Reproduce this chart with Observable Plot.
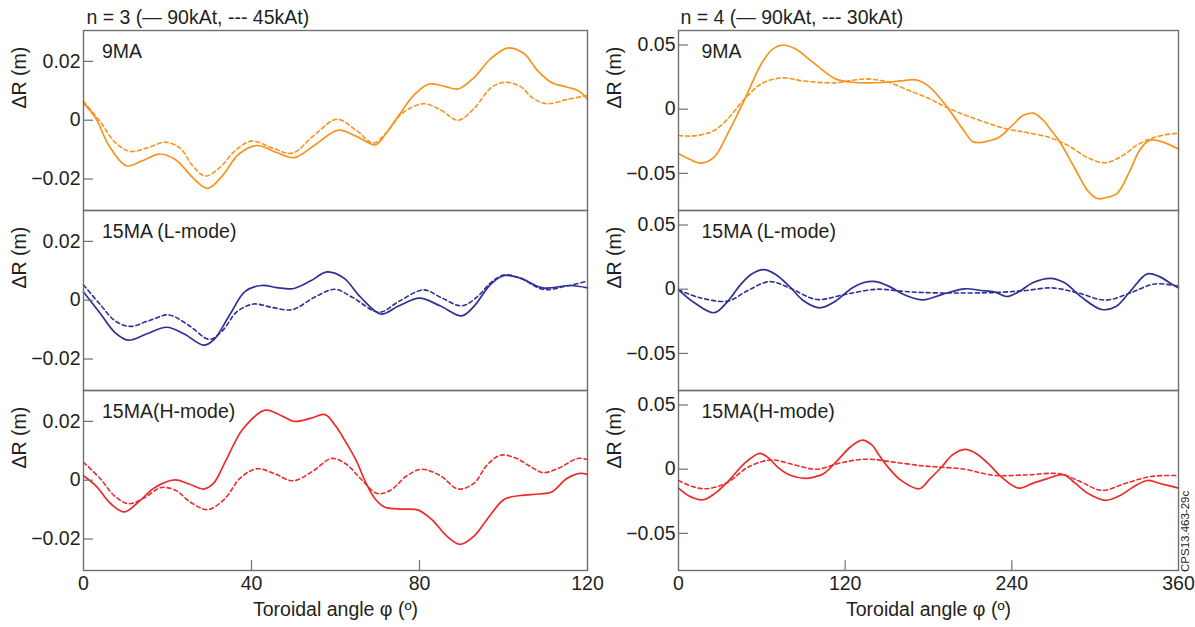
<!DOCTYPE html>
<html><head><meta charset="utf-8">
<script src="https://cdn.jsdelivr.net/npm/d3@7"></script>
<script src="https://cdn.jsdelivr.net/npm/@observablehq/plot@0.6"></script>
<style>
body{margin:0;background:#fff;}
#chart{position:relative;width:1195px;height:627px;background:#fff;overflow:hidden;}
#chart svg{position:absolute;top:0;max-width:none;}
</style></head><body><div id="chart"></div>
<script>
// ---------- data (toroidal angle φ in degrees, ΔR in metres) ----------
const panels = ["9MA", "15MA (L-mode)", "15MA(H-mode)"];
const leftTitle = "n = 3 (— 90kAt, --- 45kAt)";
const rightTitle = "n = 4 (— 90kAt, --- 30kAt)";
const xLabel = "Toroidal angle φ (º)";
const yLabel = "ΔR (m)";
const leftXTicks = [0, 40, 80, 120];
const rightXTicks = [0, 120, 240, 360];
const leftYTicks = [-0.02, 0, 0.02];
const rightYTicks = [-0.05, 0, 0.05];
const colors = ["#f7941d", "#2e3192", "#ee2a2a"];

// n = 3, 9MA
const n3_9MA_90 = [[0,0.0058],[3,0.0005],[6,-0.0085],[10.2,-0.0155],[14,-0.0138],[18,-0.0115],[22,-0.0135],[26,-0.0195],[29.5,-0.0232],[33,-0.019],[37,-0.0115],[41.3,-0.0086],[46,-0.011],[50.2,-0.0127],[55,-0.0085],[60.7,-0.0034],[65,-0.0055],[69.5,-0.0084],[72,-0.0045],[75,0.0015],[79,0.009],[82.3,0.0123],[86,0.0115],[89.2,0.0106],[93,0.0145],[97,0.021],[101.2,0.0246],[105,0.0225],[108,0.017],[111.3,0.0129],[115,0.0113],[117.7,0.0101],[120,0.0072]];
const n3_9MA_45 = [[0,0.0064],[4,-0.0005],[7.5,-0.0075],[11.1,-0.0106],[15,-0.0095],[19.4,-0.0075],[23,-0.0095],[26,-0.0155],[29,-0.019],[32.5,-0.016],[36,-0.0105],[40,-0.0071],[45,-0.0095],[49.7,-0.0112],[55,-0.005],[60.3,0.0003],[65,-0.0035],[69,-0.0078],[72,-0.0045],[76,0.0025],[81,0.0056],[85,0.0035],[89.2,0.0],[93,0.004],[97,0.011],[100.2,0.0129],[104,0.0115],[107,0.0075],[110.4,0.0056],[115,0.007],[120,0.0084]];
// n = 3, 15MA L-mode
const n3_L_90 = [[0,0.0028],[4,-0.0045],[7.5,-0.011],[10.7,-0.0136],[15,-0.0115],[19.8,-0.0092],[24,-0.0115],[28.6,-0.0153],[31,-0.0135],[35,-0.0045],[38.5,0.003],[42.4,0.005],[46,0.0043],[49.7,0.0039],[54,0.0065],[58,0.0096],[62,0.0075],[66,0.001],[70.8,-0.0047],[75,-0.002],[80,0.0007],[85,-0.002],[90.1,-0.0053],[93,-0.002],[97,0.0055],[100.2,0.0084],[104,0.0075],[109.4,0.0042],[115.9,0.005],[120,0.0042]];
const n3_L_45 = [[0,0.0052],[4,-0.0015],[7.5,-0.007],[11.1,-0.0089],[15.5,-0.007],[20.3,-0.005],[25,-0.0085],[30,-0.0133],[33,-0.0105],[36.5,-0.004],[40.5,-0.0013],[45,-0.0025],[49.7,-0.0032],[55,0.001],[59.8,0.0037],[64,0.001],[70.4,-0.0041],[75,-0.0005],[81,0.0035],[85,0.001],[90.1,-0.0019],[94,0.0015],[97,0.006],[100.2,0.0086],[104,0.0075],[109.4,0.0037],[115,0.0048],[120,0.0065]];
// n = 3, 15MA H-mode
const n3_H_90 = [[0,0.0015],[3,-0.002],[6.5,-0.008],[9.7,-0.0108],[13,-0.0075],[17,-0.0025],[21.7,0.0001],[25,-0.0012],[28.6,-0.003],[31,-0.001],[34,0.007],[38,0.0175],[43.3,0.0238],[47,0.022],[50.2,0.02],[54,0.021],[57.5,0.0223],[60,0.0185],[62.6,0.0126],[65,0.0065],[67.2,-0.0008],[69.5,-0.0065],[71.8,-0.0092],[76,-0.0098],[79.6,-0.0101],[83,-0.0135],[86.5,-0.019],[89.7,-0.0218],[93,-0.019],[96.5,-0.0125],[100.2,-0.0065],[104,-0.0052],[108.5,-0.0047],[111.5,-0.004],[115,0.0005],[118.2,0.0023],[120,0.002]];
const n3_H_45 = [[0,0.0061],[4,0.0005],[7.5,-0.0055],[10.7,-0.008],[14.5,-0.006],[18.5,-0.0025],[22,-0.0035],[25.5,-0.0075],[29.5,-0.01],[33.5,-0.0065],[37.5,0.001],[41.4,0.0039],[45.5,0.0022],[49.9,-0.0002],[54.5,0.003],[59.1,0.0074],[62.5,0.0055],[66,0.0005],[69.9,-0.0045],[73,-0.0035],[77,0.0015],[80.5,0.0037],[85,0.0015],[89.2,-0.003],[93,-0.001],[96,0.005],[99.3,0.0085],[103,0.0075],[106,0.005],[109.4,0.0026],[113,0.004],[117.7,0.0074],[120,0.007]];

// n = 4, 9MA
const n4_9MA_90 = [[0,-0.0345],[8,-0.039],[16,-0.042],[25.7,-0.0373],[35,-0.02],[47.6,0.0075],[60,0.036],[68,0.047],[75,0.05],[84,0.047],[96.8,0.0365],[113,0.0236],[125,0.021],[135,0.0205],[150,0.021],[160,0.022],[170.7,0.0228],[180,0.018],[192.6,0.0028],[205,-0.016],[211.7,-0.0251],[217,-0.026],[224,-0.0245],[230.9,-0.0218],[240,-0.013],[248,-0.005],[255.5,-0.0031],[262,-0.008],[268,-0.016],[274.6,-0.0256],[285.5,-0.0464],[295,-0.064],[302,-0.0697],[308,-0.0688],[315.7,-0.0658],[325,-0.048],[332,-0.032],[338.9,-0.0243],[345,-0.0245],[352,-0.027],[360,-0.031]];
const n4_9MA_30 = [[0,-0.0205],[8,-0.021],[16,-0.02],[25.7,-0.0166],[35,-0.008],[47.6,0.008],[60,0.02],[75,0.0244],[90,0.022],[113,0.0205],[125,0.0225],[135,0.0236],[145,0.0225],[151.5,0.021],[165,0.015],[180,0.0085],[192.6,0.0016],[210,-0.006],[236,-0.0153],[250,-0.018],[266.4,-0.0218],[280,-0.028],[295,-0.038],[307.4,-0.0417],[320,-0.036],[330,-0.028],[340,-0.023],[350,-0.02],[360,-0.0187]];
// n = 4, 15MA L-mode
const n4_L_90 = [[0,-0.0005],[12,-0.011],[25.7,-0.0183],[35,-0.01],[45,0.004],[53,0.012],[61.3,0.0152],[70,0.0115],[80,0.002],[90,-0.009],[101.8,-0.0145],[112,-0.01],[125,0.001],[133,0.005],[142,0.0059],[152,0.002],[163,-0.0045],[176.2,-0.0083],[190,-0.004],[206.2,0.0003],[218,-0.001],[228,-0.0023],[236.3,-0.0057],[245,-0.002],[255,0.005],[267.8,0.0085],[278,0.005],[290,-0.006],[304.7,-0.0158],[315,-0.0135],[325,-0.002],[337.5,0.0119],[346,0.01],[355,0.004],[360,0.001]];
const n4_L_30 = [[0,-0.0005],[15,-0.0065],[35.3,-0.0093],[50,-0.001],[65.4,0.0059],[80,0.001],[99.5,-0.008],[120,-0.004],[143.3,0.0],[160,-0.0015],[176,-0.0026],[200,-0.003],[230,-0.0025],[250,-0.001],[269,0.001],[288,-0.003],[307.5,-0.0085],[325,-0.003],[343,0.0041],[360,0.0023]];
// n = 4, 15MA H-mode
const n4_H_90 = [[0,-0.0147],[8,-0.021],[17.5,-0.0238],[26,-0.019],[36.7,-0.0083],[47,0.004],[58.5,0.0124],[65,0.0085],[72.2,0.0008],[80,-0.0045],[91.4,-0.0072],[98,-0.006],[105,-0.0031],[115,0.0075],[124,0.0175],[132.4,0.0227],[139.2,0.0189],[145,0.01],[151.5,0.0008],[160,-0.0085],[173.4,-0.0152],[181,-0.0075],[189.8,0.0021],[197,0.011],[206.2,0.0155],[214,0.0125],[222.7,0.0047],[233,-0.0065],[244.6,-0.0147],[255,-0.011],[265,-0.0075],[277.4,-0.0044],[285.6,-0.0109],[295,-0.019],[307.5,-0.0243],[318,-0.0205],[328,-0.0135],[337.5,-0.0088],[348,-0.0115],[360,-0.0147]];
const n4_H_30 = [[0,-0.0088],[10,-0.0135],[20.2,-0.0152],[35,-0.0105],[50,0.0015],[66.7,0.0072],[83,0.0035],[99.5,0.0],[117,0.005],[135,0.0078],[155,0.0055],[176,0.0026],[190,0.0015],[206,0.0],[218,-0.003],[228,-0.0049],[250,-0.0045],[274.6,-0.0036],[290,-0.01],[304.7,-0.0165],[322,-0.011],[340,-0.0057],[360,-0.0049]];

// ---------- drawing ----------
const FONT = 19.5;
const FRAME = "#707070";
const INK = "#231f20";
const fmt = d => d === 0 ? "0" : (d < 0 ? "\u2212" : "") + Math.abs(d).toFixed(2);

function makeColumn(cfg) {
  const W = 600, H = 627, mt = 28.5, mb = 56.5;
  const frameW = W - cfg.ml - cfg.mr;
  const panelH = (H - mt - mb) / 3;
  const marks = [];
  cfg.series.forEach((pair, i) => {
    marks.push(Plot.line(pair[1], {x: d => d[0], y: d => d[1], fy: () => panels[i], curve: "catmull-rom",
      stroke: colors[i], strokeWidth: 1.6, strokeDasharray: "4,3"}));
    marks.push(Plot.line(pair[0], {x: d => d[0], y: d => d[1], fy: () => panels[i], curve: "catmull-rom",
      stroke: colors[i], strokeWidth: 1.7}));
  });
  marks.push(Plot.frame({stroke: FRAME, strokeWidth: 1.4}));
  marks.push(Plot.tickY(cfg.yTicks, {y: d => d, stroke: FRAME, strokeWidth: 1.2, insetRight: frameW - 10}));
  marks.push(Plot.axisY({ticks: cfg.yTicks, tickSize: 0, tickPadding: 3, tickFormat: fmt, label: null, fontSize: FONT}));
  marks.push(Plot.tickX(cfg.xTicks.slice(1, -1).map(v => ({v, p: panels[2]})), {x: "v", fy: "p", stroke: FRAME, strokeWidth: 1.2, insetTop: panelH - 10.5}));
  marks.push(Plot.axisX({ticks: cfg.xTicks, tickSize: 0, tickPadding: 5.5, tickFormat: d => String(d), label: null, fontSize: FONT}));
  marks.push(Plot.text(panels, {fy: d => d, frameAnchor: "left", text: () => yLabel, rotate: -90, dx: -64, dy: -12, fontSize: FONT, fill: INK}));
  marks.push(Plot.text(panels, {fy: d => d, frameAnchor: "top-left", text: d => d, dx: cfg.labelDx, dy: 14, lineAnchor: "top", textAnchor: "start", fontSize: FONT, fill: INK}));
  marks.push(Plot.text([panels[0]], {fy: d => d, frameAnchor: "top-left", text: () => cfg.title, dx: cfg.titleDx, dy: -20.5, lineAnchor: "top", textAnchor: "start", fontSize: FONT, fill: INK}));
  marks.push(Plot.text([panels[2]], {fy: d => d, frameAnchor: "bottom", text: () => xLabel, dy: 31.5, lineAnchor: "top", fontSize: FONT, fill: INK}));
  if (cfg.code) {
    marks.push(Plot.text([panels[2]], {fy: d => d, frameAnchor: "bottom-right", text: () => cfg.code, rotate: -90, textAnchor: "start", lineAnchor: "middle", dx: 7, dy: 1.5, fontSize: 11.5, fill: INK}));
  }
  const svg = Plot.plot({
    width: W, height: H,
    marginTop: mt, marginBottom: mb, marginLeft: cfg.ml, marginRight: cfg.mr,
    x: {domain: cfg.xDomain},
    y: {domain: cfg.yDomain},
    fy: {domain: panels, padding: 0, axis: null},
    style: {fontFamily: "'Liberation Sans', Arial, Helvetica, sans-serif", fontSize: FONT + "px", color: INK, background: "transparent", overflow: "visible"},
    marks
  });
  svg.style.left = cfg.left + "px";
  return svg;
}

const chart = document.getElementById("chart");
chart.appendChild(makeColumn({
  left: 0, ml: 83, mr: 13, xDomain: [0, 120], yDomain: [-0.0307, 0.0305],
  xTicks: leftXTicks, yTicks: leftYTicks, title: leftTitle, titleDx: 3, labelDx: 18.5,
  series: [[n3_9MA_90, n3_9MA_45], [n3_L_90, n3_L_45], [n3_H_90, n3_H_45]]
}));
chart.appendChild(makeColumn({
  left: 595, ml: 83, mr: 17, xDomain: [0, 360], yDomain: [-0.0789, 0.0613],
  xTicks: rightXTicks, yTicks: rightYTicks, title: rightTitle, titleDx: 2, labelDx: 23,
  code: "CPS13.463-29c",
  series: [[n4_9MA_90, n4_9MA_30], [n4_L_90, n4_L_30], [n4_H_90, n4_H_30]]
}));
</script></body></html>
